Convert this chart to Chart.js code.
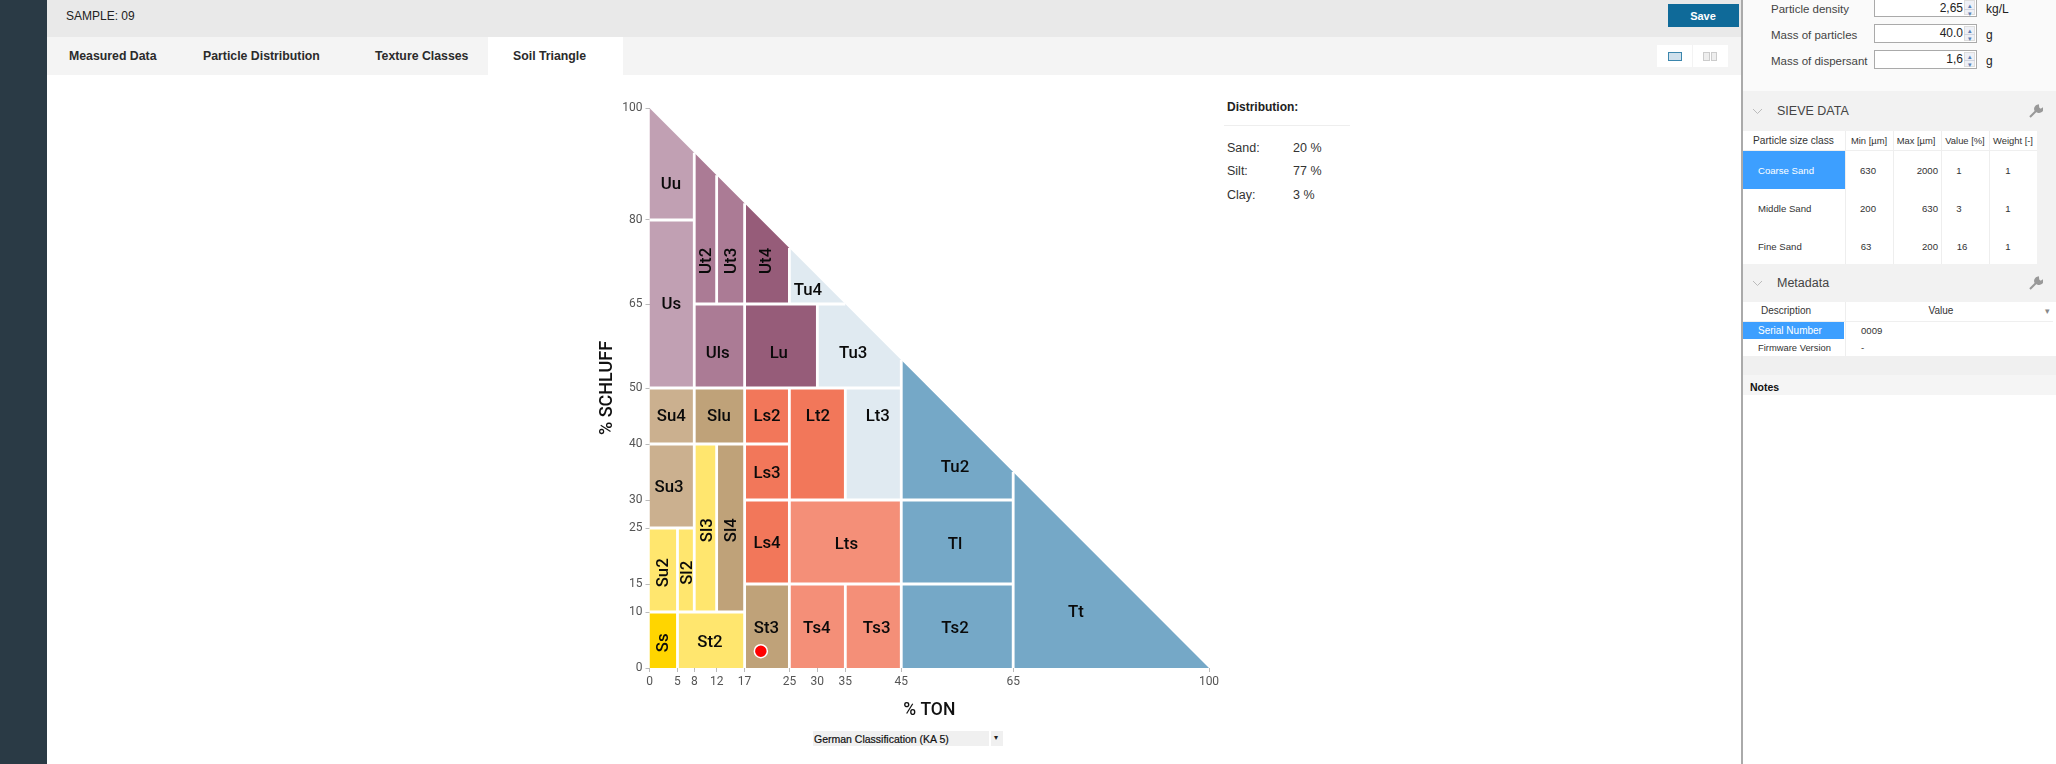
<!DOCTYPE html>
<html><head><meta charset="utf-8">
<style>
html,body{margin:0;padding:0;background:#fff;width:2056px;height:764px;overflow:hidden;font-family:"Liberation Sans",Arial,sans-serif;color:#333}
#ui{position:absolute;left:0;top:0;width:2056px;height:764px}
.b{position:absolute}
.t{position:absolute;white-space:nowrap;transform:translateY(-50%);font-size:11px;line-height:14px}
.c{transform:translate(-50%,-50%)}
.r{transform:translate(-100%,-50%)}
#wrap{position:absolute;left:560px;top:90px;width:680px;height:640px}
</style></head><body>
<div id="ui"></div>
<div id="wrap"><canvas id="chart" width="680" height="640"></canvas></div>
<script src="https://cdn.jsdelivr.net/npm/chart.js@4/dist/chart.umd.min.js"></script>
<script>
// ---------- chart data (x = % TON, y = % SCHLUFF) ----------
const classNames = ["Uu","Us","Ut2","Ut3","Ut4","Tu4","Uls","Lu","Tu3","Su4","Slu","Ls2","Lt2","Lt3","Tu2","Su3","Ls3","Sl3","Sl4","Ls4","Lts","Tl","Su2","Sl2","Ss","St2","St3","Ts4","Ts3","Ts2","Tt"];
const classPolygons = [
 [[0,80],[0,100],[8,92],[8,80]],
 [[0,50],[0,80],[8,80],[8,50]],
 [[8,65],[8,92],[12,88],[12,65]],
 [[12,65],[12,88],[17,83],[17,65]],
 [[17,65],[17,83],[25,75],[25,65]],
 [[25,65],[25,75],[35,65]],
 [[8,50],[8,65],[17,65],[17,50]],
 [[17,50],[17,65],[30,65],[30,50]],
 [[30,50],[30,65],[35,65],[45,55],[45,50]],
 [[0,40],[0,50],[8,50],[8,40]],
 [[8,40],[8,50],[17,50],[17,40]],
 [[17,40],[17,50],[25,50],[25,40]],
 [[25,30],[25,50],[35,50],[35,30]],
 [[35,30],[35,50],[45,50],[45,30]],
 [[45,30],[45,55],[65,35],[65,30]],
 [[0,25],[0,40],[8,40],[8,25]],
 [[17,30],[17,40],[25,40],[25,30]],
 [[8,10],[8,40],[12,40],[12,10]],
 [[12,10],[12,40],[17,40],[17,10]],
 [[17,15],[17,30],[25,30],[25,15]],
 [[25,15],[25,30],[45,30],[45,15]],
 [[45,15],[45,30],[65,30],[65,15]],
 [[0,10],[0,25],[5,25],[5,10]],
 [[5,10],[5,25],[8,25],[8,10]],
 [[0,0],[0,10],[5,10],[5,0]],
 [[5,0],[5,10],[17,10],[17,0]],
 [[17,0],[17,15],[25,15],[25,0]],
 [[25,0],[25,15],[35,15],[35,0]],
 [[35,0],[35,15],[45,15],[45,0]],
 [[45,0],[45,15],[65,15],[65,0]],
 [[65,0],[65,35],[100,0]]
];
const classColors = ["#c1a0b3","#c1a0b3","#ab7b95","#ab7b95","#965c79","#e0eaf1","#ab7b95","#965c79","#e0eaf1","#cbb08f","#bfa279","#f2775a","#f2775a","#e0eaf1","#75a8c7","#cbb08f","#f2775a","#ffe66e","#bfa279","#f2775a","#f48f78","#75a8c7","#ffe66e","#ffe66e","#ffd500","#ffe66e","#bfa279","#f48f78","#f48f78","#75a8c7","#75a8c7"];
const labelX = [3.84,3.9,10.1,14.6,20.8,28.3,12.2,23.1,36.4,3.9,12.4,21,30.1,40.8,54.6,3.5,21,10.2,14.6,21,35.2,54.6,2.35,6.6,2.3,10.8,20.9,29.9,40.6,54.6,76.2];
const labelY = [86.4,65.1,72.7,72.7,72.7,67.6,56.2,56.2,56.2,45.1,45.1,45.1,45.1,45.1,35.9,32.3,34.9,24.6,24.6,22.3,22.1,22.1,17,17,4.5,4.7,7.2,7.2,7.2,7.2,10];
const rotatedLabels = ["Ut2","Ut3","Ut4","Sl3","Sl4","Su2","Sl2","Ss"];
const dividers = [
 [[5,0],[5,25]],[[8,10],[8,92]],[[12,10],[12,40]],[[12,65],[12,88]],[[17,0],[17,83]],
 [[25,0],[25,50]],[[25,65],[25,75]],[[30,50],[30,65]],[[35,0],[35,15]],[[35,30],[35,50]],
 [[45,0],[45,55]],[[65,0],[65,35]],
 [[0,10],[17,10]],[[17,15],[65,15]],[[0,25],[8,25]],[[17,30],[65,30]],[[0,40],[25,40]],
 [[0,50],[45,50]],[[8,65],[35,65]],[[0,80],[8,80]]
];
const samplePoint = [[19.9,3]];
const xTicks = [0,5,8,12,17,25,30,35,45,65,100];
const yTicks = [0,10,15,25,30,40,50,65,80,100];
const xTitle = "% TON";
const yTitle = "% SCHLUFF";

const toPts = a => a.map(p => ({x:p[0],y:p[1]}));
const polygonSets = classPolygons.map((poly,i)=>({
  label:classNames[i],data:toPts(poly),showLine:true,fill:'shape',backgroundColor:classColors[i],
  borderWidth:0,pointRadius:0,order:3,clip:false,tension:0
}));
const dividerSets = dividers.map(seg=>({
  data:toPts(seg),showLine:true,fill:false,borderColor:'#ffffff',borderWidth:2.8,pointRadius:0,order:2,clip:false
}));
const pointSet = {data:toPts(samplePoint),showLine:false,pointRadius:6.5,pointBackgroundColor:'#ff0000',pointBorderColor:'#ffffff',pointBorderWidth:1.5,order:1,clip:false};

const classLabelPlugin = {
  id:'classLabels',
  afterDatasetsDraw(chart){
    const {ctx,scales:{x,y}} = chart;
    ctx.save();
    ctx.font = '500 16.8px Roboto, sans-serif';
    ctx.fillStyle = '#0a0a0a';
    ctx.textAlign='center';ctx.textBaseline='middle';
    classNames.forEach((n,i)=>{
      const px=x.getPixelForValue(labelX[i]),py=y.getPixelForValue(labelY[i]);
      ctx.save();ctx.translate(px,py);
      if(rotatedLabels.includes(n))ctx.rotate(-Math.PI/2);
      ctx.fillText(n,0,1);ctx.restore();
    });
    ctx.restore();
  }
};

new Chart(document.getElementById('chart'),{
  type:'scatter',
  data:{datasets:[...polygonSets,...dividerSets,pointSet]},
  plugins:[classLabelPlugin],
  options:{
    responsive:false,animation:false,events:[],
    layout:{padding:{left:0,right:31,top:18,bottom:0}},
    plugins:{legend:{display:false},tooltip:{enabled:false}},
    scales:{
      x:{type:'linear',min:0,max:100,
        afterBuildTicks(s){s.ticks=xTicks.map(v=>({value:v}));},
        afterFit(s){s.height=62;},
        grid:{drawOnChartArea:false,tickLength:4,color:'#bbbbbb'},border:{display:false},
        ticks:{autoSkip:false,maxRotation:0,padding:3,color:'#555',font:{family:'Roboto',size:12},callback:v=>String(v)},
        title:{display:true,text:xTitle,color:'#111',font:{family:'Roboto',size:17.5,weight:'500'},padding:{top:0,bottom:9}}
      },
      y:{type:'linear',min:0,max:100,
        afterBuildTicks(s){s.ticks=yTicks.map(v=>({value:v}));},
        afterFit(s){s.width=89.5;},
        grid:{drawOnChartArea:false,tickLength:4,color:'#bbbbbb'},border:{display:false},
        ticks:{autoSkip:false,padding:3,color:'#555',font:{family:'Roboto',size:12},callback:v=>String(v)},
        title:{display:true,text:yTitle,color:'#111',font:{family:'Roboto',size:18,weight:'500'},padding:{top:37,bottom:0}}
      }
    }
  }
});

// ---------- surrounding application UI ----------
const ui=document.getElementById('ui');
function box(l,t,w,h,bg,extra){const d=document.createElement('div');d.className='b';d.style.cssText=`left:${l}px;top:${t}px;width:${w}px;height:${h}px;background:${bg};${extra||''}`;ui.appendChild(d);return d;}
function txt(x,y,s,css,cls){const d=document.createElement('div');d.className='t '+(cls||'');d.textContent=s;d.style.cssText=`left:${x}px;top:${y}px;${css||''}`;ui.appendChild(d);return d;}
const tabFont='font-size:12.3px;font-weight:bold;color:#2b2b2b;';
box(0,0,47,764,'#2a3a45');
box(47,0,1694,37,'#e9e9e9');
box(47,37,1694,38,'#f4f4f4');
box(488,37,135,38,'#fff');
txt(66,16,'SAMPLE: 09','font-size:12px;color:#222');
txt(69,56,'Measured Data',tabFont);
txt(203,56,'Particle Distribution',tabFont);
txt(375,56,'Texture Classes',tabFont);
txt(513,56,'Soil Triangle',tabFont);
box(1668,4,71,23,'#0f6a99');
txt(1703,16,'Save','color:#fff;font-weight:bold;font-size:11px','c');
box(1657,45,71,22,'#fff');
box(1668,52,14,9,'#cfe0ec','border:1px solid #3b86ad;box-sizing:border-box');
box(1692,45,1,22,'#f3f3f3');
box(1703,52,6.5,9,'#eee','border:1px solid #ccc;box-sizing:border-box');
box(1710.5,52,6.5,9,'#eee','border:1px solid #ccc;box-sizing:border-box');
// distribution block
txt(1227,107,'Distribution:','font-size:12px;font-weight:bold;color:#222');
box(1224,125,126,1,'#eeeeee');
[['Sand:','20 %',148],['Silt:','77 %',171],['Clay:','3 %',195]].forEach(r=>{txt(1227,r[2],r[0],'font-size:12.5px');txt(1293,r[2],r[1],'font-size:12.5px');});
// dropdown
box(813,731,190,15,'#f0f0f0');
box(989,731,1.5,15,'#fff');
txt(814,738.5,'German Classification (KA 5)','font-size:10.5px;color:#111;-webkit-text-stroke:0.2px #111');
txt(996,738,'▾','font-size:8px;color:#222','c');
// right panel
box(1741,0,1.5,764,'#aaaaaa');
box(1743,0,313,91,'#fafafa');
[['Particle density','2,65','kg/L',-9,9],['Mass of particles','40.0','g',24,35],['Mass of dispersant','1,6','g',50,61]].forEach(r=>{
  txt(1771,r[4],r[0],'font-size:11.5px;color:#444');
  const top=r[3], bottom=top+(top<0?26:19);
  box(1874,top,103,bottom-top,'#fff','border:1px solid #aaa;box-sizing:border-box');
  const sTop=Math.max(top+2,0), sMid=top<0?8.5:top+9.5;
  box(1964,sTop,11,15,'#eef0f6','border:1px solid #ddd;box-sizing:border-box');
  box(1964,sMid,11,1,'#cfd3de');
  txt(1969.5,sMid-3.5,'▴','font-size:7px;line-height:7px;color:#5b7fb5','c');
  txt(1969.5,sMid+4.5,'▾','font-size:7px;line-height:7px;color:#5b7fb5','c');
  txt(1963,top<0?8:top+9,r[1],'font-size:12px;color:#222','r');
  txt(1986,r[4],r[2],'font-size:12px;color:#222');
});
function wrench(x,y){const s=document.createElementNS('http://www.w3.org/2000/svg','svg');s.setAttribute('width','14');s.setAttribute('height','14');s.setAttribute('viewBox','0 0 14 14');s.style.cssText=`position:absolute;left:${x}px;top:${y}px`;s.innerHTML='<path d="M1 13 L7 7 M9 1.5 a3.4 3.4 0 0 0 -2.5 5 l2 1 a3.4 3.4 0 0 0 5 -2.8 l-2 1.4 l-2.2 -2 z" stroke="#999" stroke-width="2" fill="#999"/>';ui.appendChild(s);}
function chev(x,y){const s=document.createElementNS('http://www.w3.org/2000/svg','svg');s.setAttribute('width','11');s.setAttribute('height','7');s.style.cssText=`position:absolute;left:${x}px;top:${y}px`;s.innerHTML='<path d="M1 1 L5.5 5.5 L10 1" stroke="#bbb" fill="none"/>';ui.appendChild(s);}
box(1743,91,313,173,'#f2f2f2');
chev(1752,108);
txt(1777,111,'SIEVE DATA','font-size:12.5px;color:#444');
wrench(2029,104);
box(1743,131,294,133,'#fff');
box(1743,150,294,1,'#efefef');
[1845,1893,1941,1989].forEach(x=>box(x,131,1,133,'#eeeeee'));
box(1743,151,102,38,'#3d9fff');
const th='font-size:9.4px;color:#333;';
txt(1753,141,'Particle size class','font-size:10.2px;color:#333');
txt(1869,141,'Min [µm]',th,'c');txt(1916,141,'Max [µm]',th,'c');txt(1965,141,'Value [%]',th,'c');txt(2013,141,'Weight [-]',th,'c');
const td='font-size:9.6px;color:#333;';
[['Coarse Sand','630','2000','1','1',171,1868,1959],['Middle Sand','200','630','3','1',209,1868,1959],['Fine Sand','63','200','16','1',247,1866,1962]].forEach((r,i)=>{
  txt(1758,r[5],r[0],i==0?'font-size:9.6px;color:#fff':td);
  txt(r[6],r[5],r[1],td,'c');txt(1938,r[5],r[2],td,'r');txt(r[7],r[5],r[3],td,'c');txt(2008,r[5],r[4],td,'c');
});
box(1743,264,313,38,'#f2f2f2');
chev(1752,280);
txt(1777,283,'Metadata','font-size:12.5px;color:#444');
wrench(2029,276);
box(1743,302,310,54,'#fff');
box(1743,321,310,1,'#efefef');
box(1845,302,1,54,'#eeeeee');
box(1743,322,101,17,'#3d9fff');
txt(1786,311,'Description','font-size:10px;color:#333','c');txt(1941,311,'Value','font-size:10px;color:#333','c');txt(2047,311,'▾','font-size:9px;color:#888','c');
txt(1758,331,'Serial Number','font-size:10px;color:#fff');txt(1861,331,'0009',td);
txt(1758,348,'Firmware Version','font-size:9.4px;color:#333');txt(1861,348,'-',td);
box(1743,356,313,19,'#f0f0f0');
box(1743,375,313,20,'#f5f5f5');
txt(1750,387,'Notes','font-size:10.5px;font-weight:bold;color:#111');
</script>
</body></html>
